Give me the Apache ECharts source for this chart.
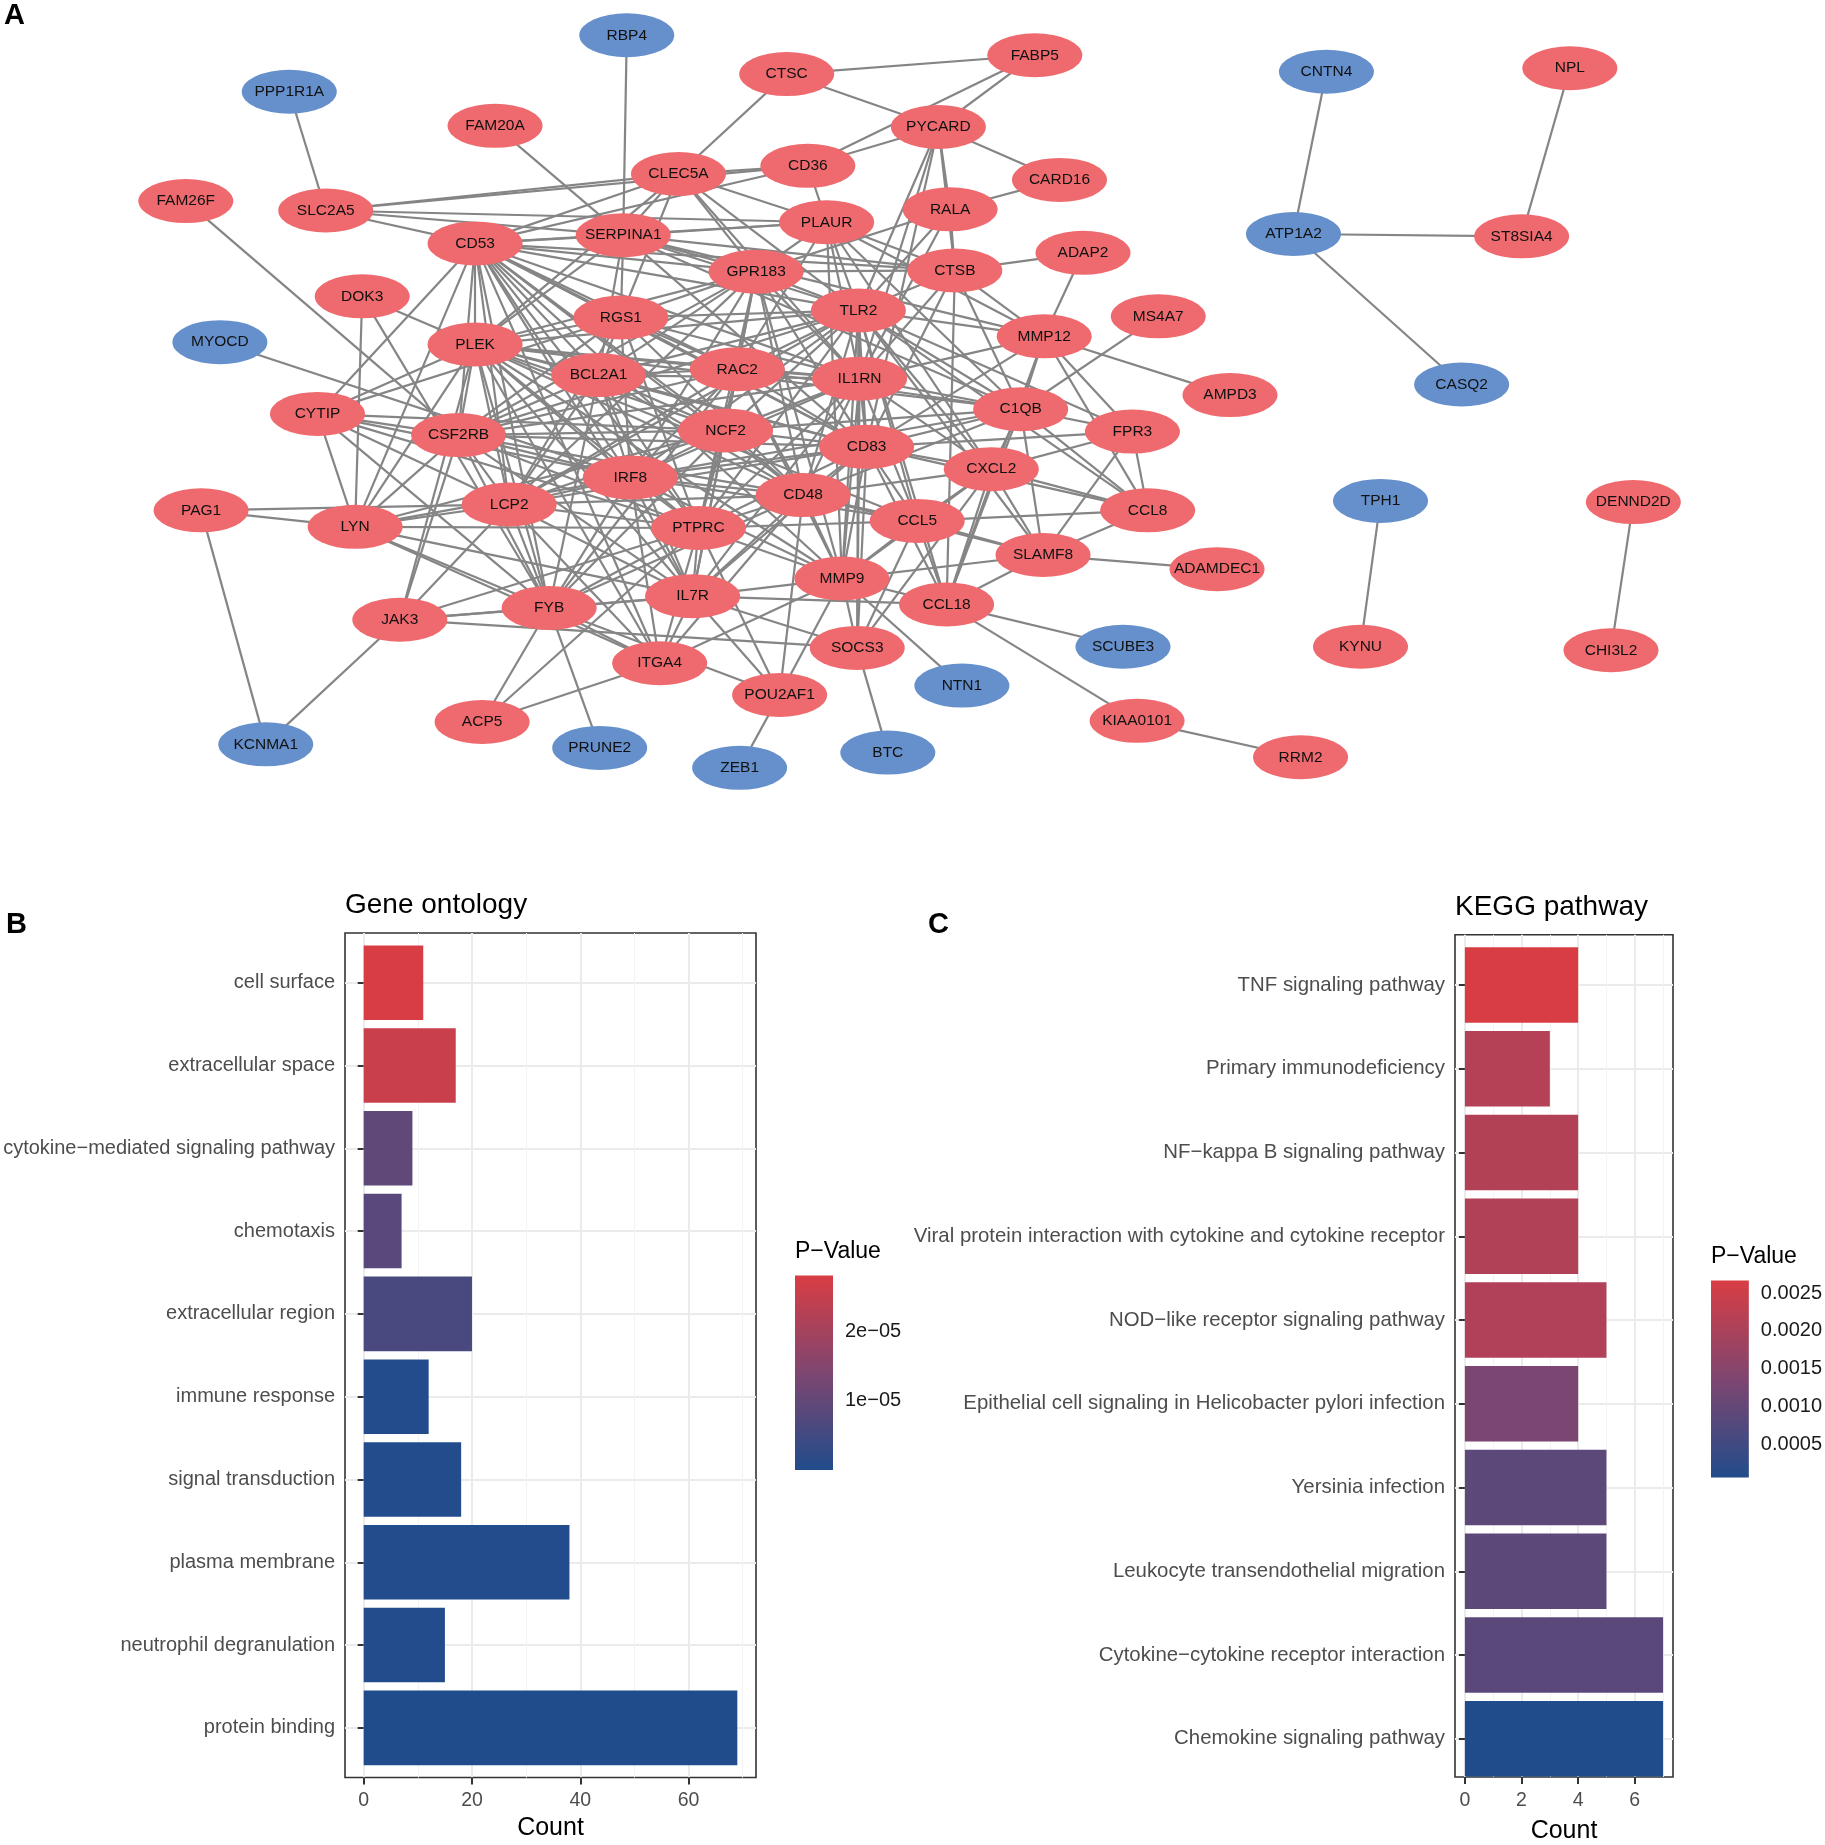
<!DOCTYPE html>
<html>
<head>
<meta charset="utf-8">
<script src="https://cdn.jsdelivr.net/npm/echarts@6/dist/echarts.min.js"></script>
<style>html,body{margin:0;padding:0;background:#fff}#c{width:1825px;height:1845px}</style>
</head>
<body>
<div id="c"></div>
<script>
// ---------------- DATA ----------------
// Network nodes: [name, x, y] in layout units
const redNodes = [
 ['FABP5',880,47],['CTSC',669,63],['PYCARD',798,108],['FAM20A',421,107],['CD36',687,141],
 ['CLEC5A',577,148],['CARD16',901,153],['FAM26F',158,171],['SLC2A5',277,179],['RALA',808,178],
 ['PLAUR',703,189],['SERPINA1',530,200],['CD53',404,207],['ADAP2',921,215],['CTSB',812,230],
 ['GPR183',643,231],['DOK3',308,252],['TLR2',730,264],['RGS1',528,270],['MS4A7',985,269],
 ['MMP12',888,286],['PLEK',404,293],['RAC2',627,314],['BCL2A1',509,319],['IL1RN',731,322],
 ['AMPD3',1046,336],['C1QB',868,348],['CYTIP',270,352],['FPR3',963,367],['CSF2RB',390,370],
 ['NCF2',617,366],['CD83',737,380],['CXCL2',843,399],['IRF8',536,406],['CD48',683,421],
 ['CCL8',976,434],['PAG1',171,434],['LCP2',433,429],['LYN',302,448],['PTPRC',594,449],
 ['CCL5',780,443],['SLAMF8',887,472],['ADAMDEC1',1035,484],['MMP9',716,492],['IL7R',589,507],
 ['FYB',467,517],['CCL18',805,514],['JAK3',340,527],['SOCS3',729,551],['ITGA4',561,564],
 ['POU2AF1',663,591],['ACP5',410,614],['KIAA0101',967,613],['RRM2',1106,644],['NPL',1335,58],
 ['ST8SIA4',1294,201],['DENND2D',1389,427],['KYNU',1157,550],['CHI3L2',1370,553]
];
const blueNodes = [
 ['RBP4',533,30],['PPP1R1A',246,78],['MYOCD',187,291],['KCNMA1',226,633],['PRUNE2',510,636],
 ['ZEB1',629,653],['BTC',755,640],['NTN1',818,583],['SCUBE3',955,550],['CNTN4',1128,61],
 ['ATP1A2',1100,199],['CASQ2',1243,327],['TPH1',1174,426]
];
const edges = [
 ['RBP4','SERPINA1'],['PPP1R1A','SLC2A5'],['FAM26F','CSF2RB'],['FAM20A','SERPINA1'],['MYOCD','IRF8'],
 ['CTSC','FABP5'],['CTSC','PYCARD'],['CTSC','CLEC5A'],['FABP5','PYCARD'],['FABP5','CD36'],
 ['PYCARD','CARD16'],['PYCARD','RALA'],['PYCARD','CD36'],['PYCARD','TLR2'],['PYCARD','IL1RN'],['PYCARD','CD83'],['PYCARD','CTSB'],
 ['CARD16','RALA'],['RALA','CTSB'],['RALA','TLR2'],['RALA','IL1RN'],['RALA','GPR183'],
 ['CTSB','ADAP2'],['ADAP2','MMP12'],['MS4A7','C1QB'],['MMP12','AMPD3'],
 ['CD36','PLAUR'],['CD36','CLEC5A'],['CD36','SLC2A5'],['CD36','CD53'],
 ['SLC2A5','CLEC5A'],['SLC2A5','PLAUR'],['SLC2A5','CD53'],['SLC2A5','SERPINA1'],
 ['CLEC5A','SERPINA1'],['CLEC5A','CD53'],['CLEC5A','PLAUR'],['CLEC5A','TLR2'],['CLEC5A','GPR183'],['CLEC5A','RGS1'],['CLEC5A','PLEK'],['CLEC5A','IL1RN'],
 ['SERPINA1','PLAUR'],['SERPINA1','CTSB'],['SERPINA1','TLR2'],['SERPINA1','MMP12'],['SERPINA1','CD53'],['SERPINA1','RGS1'],['SERPINA1','PLEK'],['SERPINA1','GPR183'],['SERPINA1','CD83'],['SERPINA1','BCL2A1'],['SERPINA1','C1QB'],
 ['PLAUR','CTSB'],['PLAUR','TLR2'],['PLAUR','IL1RN'],['PLAUR','MMP12'],['PLAUR','C1QB'],['PLAUR','GPR183'],['PLAUR','CD53'],['PLAUR','RAC2'],['PLAUR','CXCL2'],['PLAUR','MMP9'],
 ['CTSB','TLR2'],['CTSB','C1QB'],['CTSB','MMP12'],['CTSB','GPR183'],['CTSB','IL1RN'],['CTSB','CD53'],['CTSB','CD83'],['CTSB','CCL18'],
 ['MMP12','C1QB'],['MMP12','TLR2'],['MMP12','FPR3'],['MMP12','CD83'],['MMP12','CCL8'],['MMP12','IL1RN'],['MMP12','CCL18'],
 ['C1QB','IL1RN'],['C1QB','TLR2'],['C1QB','CD83'],['C1QB','FPR3'],['C1QB','CCL8'],['C1QB','SLAMF8'],['C1QB','CXCL2'],['C1QB','CD48'],['C1QB','RAC2'],['C1QB','CCL18'],['C1QB','NCF2'],['C1QB','PLEK'],['C1QB','IRF8'],
 ['FPR3','CCL8'],['FPR3','SLAMF8'],['FPR3','CXCL2'],['FPR3','TLR2'],['FPR3','CD83'],
 ['CCL8','SLAMF8'],['CCL8','CXCL2'],['CCL8','CCL5'],['CCL8','TLR2'],['CCL8','CD83'],
 ['CXCL2','CCL18'],['CXCL2','SLAMF8'],['CXCL2','CD83'],['CXCL2','CCL5'],['CXCL2','MMP9'],['CXCL2','TLR2'],['CXCL2','IL1RN'],['CXCL2','CD48'],['CXCL2','SOCS3'],
 ['CCL5','SLAMF8'],['CCL5','MMP9'],['CCL5','CD83'],['CCL5','SOCS3'],['CCL5','TLR2'],['CCL5','CD48'],['CCL5','PTPRC'],['CCL5','IRF8'],['CCL5','IL1RN'],['CCL5','CCL18'],
 ['MMP9','SOCS3'],['MMP9','CCL18'],['MMP9','IL7R'],['MMP9','POU2AF1'],['MMP9','NTN1'],['MMP9','CD48'],['MMP9','CD83'],['MMP9','IL1RN'],['MMP9','TLR2'],['MMP9','PTPRC'],['MMP9','RAC2'],['MMP9','IRF8'],['MMP9','GPR183'],['MMP9','SLAMF8'],['MMP9','ITGA4'],
 ['CCL18','SLAMF8'],['CCL18','SCUBE3'],['CCL18','KIAA0101'],['CCL18','IL7R'],['CCL18','CD83'],
 ['SOCS3','BTC'],['SOCS3','JAK3'],['SOCS3','IL1RN'],['SOCS3','CD83'],['SOCS3','IL7R'],['SOCS3','TLR2'],
 ['POU2AF1','ZEB1'],['POU2AF1','PTPRC'],['POU2AF1','IL7R'],['POU2AF1','FYB'],['POU2AF1','CD48'],
 ['ITGA4','IL7R'],['ITGA4','PTPRC'],['ITGA4','FYB'],['ITGA4','ACP5'],['ITGA4','CD48'],['ITGA4','LCP2'],['ITGA4','LYN'],['ITGA4','IRF8'],
 ['PAG1','LYN'],['PAG1','LCP2'],['PAG1','KCNMA1'],
 ['LYN','PTPRC'],['LYN','FYB'],['LYN','CYTIP'],['LYN','DOK3'],['LYN','CSF2RB'],['LYN','LCP2'],['LYN','IL7R'],['LYN','PLEK'],['LYN','CD53'],['LYN','IRF8'],['LYN','NCF2'],
 ['JAK3','FYB'],['JAK3','CSF2RB'],['JAK3','LCP2'],['JAK3','KCNMA1'],['JAK3','IL7R'],['JAK3','PTPRC'],['JAK3','PLEK'],
 ['FYB','LCP2'],['FYB','CSF2RB'],['FYB','PTPRC'],['FYB','IRF8'],['FYB','IL7R'],['FYB','PRUNE2'],['FYB','ACP5'],['FYB','CYTIP'],['FYB','PLEK'],['FYB','CD53'],['FYB','DOK3'],['FYB','CD48'],['FYB','RAC2'],['FYB','NCF2'],['FYB','BCL2A1'],
 ['ACP5','PTPRC'],
 ['CYTIP','CSF2RB'],['CYTIP','IRF8'],['CYTIP','PTPRC'],['CYTIP','LCP2'],['CYTIP','CD53'],['CYTIP','PLEK'],['CYTIP','RGS1'],['CYTIP','NCF2'],
 ['CSF2RB','NCF2'],['CSF2RB','LCP2'],['CSF2RB','IRF8'],['CSF2RB','PTPRC'],['CSF2RB','PLEK'],['CSF2RB','CD53'],['CSF2RB','RGS1'],['CSF2RB','BCL2A1'],['CSF2RB','RAC2'],['CSF2RB','CD48'],['CSF2RB','IL7R'],['CSF2RB','CD83'],['CSF2RB','TLR2'],['CSF2RB','GPR183'],['CSF2RB','IL1RN'],
 ['DOK3','PLEK'],
 ['CD53','PLEK'],['CD53','RGS1'],['CD53','GPR183'],['CD53','TLR2'],['CD53','BCL2A1'],['CD53','RAC2'],['CD53','LCP2'],['CD53','IRF8'],['CD53','NCF2'],['CD53','PTPRC'],['CD53','CD48'],['CD53','IL7R'],['CD53','MMP9'],['CD53','CD83'],['CD53','IL1RN'],['CD53','ITGA4'],
 ['PLEK','RGS1'],['PLEK','BCL2A1'],['PLEK','RAC2'],['PLEK','NCF2'],['PLEK','IRF8'],['PLEK','PTPRC'],['PLEK','CD48'],['PLEK','TLR2'],['PLEK','GPR183'],['PLEK','LCP2'],['PLEK','IL7R'],['PLEK','CD83'],['PLEK','IL1RN'],['PLEK','MMP9'],['PLEK','CCL5'],['PLEK','ITGA4'],
 ['TLR2','GPR183'],['TLR2','RGS1'],['TLR2','RAC2'],['TLR2','IL1RN'],['TLR2','CD83'],['TLR2','CD48'],['TLR2','PTPRC'],['TLR2','IRF8'],['TLR2','NCF2'],['TLR2','BCL2A1'],['TLR2','SLAMF8'],['TLR2','CCL18'],['TLR2','LCP2'],
 ['GPR183','RGS1'],['GPR183','RAC2'],['GPR183','BCL2A1'],['GPR183','IRF8'],['GPR183','CD83'],['GPR183','PTPRC'],['GPR183','CD48'],['GPR183','IL1RN'],['GPR183','LCP2'],['GPR183','NCF2'],
 ['RGS1','BCL2A1'],['RGS1','RAC2'],['RGS1','IRF8'],['RGS1','PTPRC'],['RGS1','CD83'],['RGS1','LCP2'],['RGS1','IL1RN'],['RGS1','CD48'],
 ['BCL2A1','RAC2'],['BCL2A1','NCF2'],['BCL2A1','IRF8'],['BCL2A1','PTPRC'],['BCL2A1','LCP2'],['BCL2A1','CD83'],['BCL2A1','IL1RN'],['BCL2A1','CD48'],['BCL2A1','IL7R'],
 ['RAC2','NCF2'],['RAC2','IRF8'],['RAC2','PTPRC'],['RAC2','IL1RN'],['RAC2','CD83'],['RAC2','CD48'],['RAC2','LCP2'],['RAC2','IL7R'],
 ['NCF2','IRF8'],['NCF2','PTPRC'],['NCF2','CD83'],['NCF2','CD48'],['NCF2','LCP2'],['NCF2','IL1RN'],['NCF2','IL7R'],
 ['IL1RN','CD83'],['IL1RN','CD48'],['IL1RN','PTPRC'],['IL1RN','IRF8'],['IL1RN','IL7R'],
 ['CD83','CD48'],['CD83','PTPRC'],['CD83','IRF8'],['CD83','IL7R'],['CD83','LCP2'],
 ['IRF8','LCP2'],['IRF8','PTPRC'],['IRF8','CD48'],['IRF8','IL7R'],
 ['LCP2','PTPRC'],['LCP2','IL7R'],['LCP2','CD48'],
 ['PTPRC','IL7R'],['PTPRC','CD48'],['CD48','IL7R'],['CD48','SLAMF8'],
 ['SLAMF8','ADAMDEC1'],['KIAA0101','RRM2'],
 ['ATP1A2','CNTN4'],['ATP1A2','ST8SIA4'],['ATP1A2','CASQ2'],['ST8SIA4','NPL'],['TPH1','KYNU'],['DENND2D','CHI3L2']
];

// Gene ontology
const goTerms = ['cell surface','extracellular space','cytokine\u2212mediated signaling pathway','chemotaxis',
 'extracellular region','immune response','signal transduction','plasma membrane','neutrophil degranulation','protein binding'];
const goCounts = [11,17,9,7,20,12,18,38,15,69];
const goPValues = [2.8e-5,2.55e-5,9.5e-6,8.5e-6,6.0e-6,2e-7,1.5e-7,1e-7,1e-7,1e-9];
const goTicks = [0,20,40,60];
const goMinorTicks = [10,30,50,70];
const goLegendTicks = [1e-5,2e-5];

// KEGG
const keggTerms = ['TNF signaling pathway','Primary immunodeficiency','NF\u2212kappa B signaling pathway',
 'Viral protein interaction with cytokine and cytokine receptor','NOD\u2212like receptor signaling pathway',
 'Epithelial cell signaling in Helicobacter pylori infection','Yersinia infection',
 'Leukocyte transendothelial migration','Cytokine\u2212cytokine receptor interaction','Chemokine signaling pathway'];
const keggCounts = [4,3,4,4,5,4,5,5,7,7];
const keggPValues = [0.002665,0.00214,0.00212,0.00210,0.00208,0.00132,0.00090,0.00090,0.00088,0.0000646];
const keggTicks = [0,2,4,6];
const keggMinorTicks = [1,3,5,7];
const keggLegendTicks = [0.0005,0.0010,0.0015,0.0020,0.0025];

// ---------------- STYLE / BUILD ----------------
const FONT = '"Liberation Sans", Arial, Helvetica, sans-serif';
const RED = '#EF6A6E', BLUE = '#6690CC';
const STOPS = ['#214C8B','#7E4670','#D93D44'];
const chart = echarts.init(document.getElementById('c'), null, {renderer:'canvas'});

const option = {
  animation:false, backgroundColor:'#ffffff', textStyle:{fontFamily:FONT},
  title:[], grid:[], xAxis:[], yAxis:[], series:[], visualMap:[]
};

// ---- network ----
option.grid.push({left:0, top:0, width:1825, height:1845, show:false});
option.xAxis.push({type:'value', gridIndex:0, min:0, max:1552, show:false});
option.yAxis.push({type:'value', gridIndex:0, min:0, max:1569, inverse:true, show:false});
const nodeNames = new Set();
const nodeData = [];
redNodes.forEach(n => { nodeNames.add(n[0]); nodeData.push({name:n[0], value:[n[1],n[2]], itemStyle:{color:RED}}); });
blueNodes.forEach(n => { nodeNames.add(n[0]); nodeData.push({name:n[0], value:[n[1],n[2]], itemStyle:{color:BLUE}}); });
const seen = new Set();
const links = [];
edges.forEach(e => {
  const k = [e[0],e[1]].sort().join('|');
  if (seen.has(k) || !nodeNames.has(e[0]) || !nodeNames.has(e[1])) return;
  seen.add(k); links.push({source:e[0], target:e[1]});
});
option.series.push({
  type:'graph', layout:'none', coordinateSystem:'cartesian2d', xAxisIndex:0, yAxisIndex:0,
  symbol:'circle', symbolSize:[95,44], data:nodeData, links:links, silent:true,
  label:{show:true, position:'inside', fontSize:15.5, color:'#111111', fontFamily:FONT},
  lineStyle:{color:'#858585', width:2.2, opacity:1, curveness:0},
  emphasis:{disabled:true}
});

// ---- bar panels ----
function addPanel(p) {
  const g = option.grid.length, xi = option.xAxis.length, yi = option.yAxis.length;
  const band = p.band;
  option.grid.push({left:p.left, top:p.top, width:p.width, height:band*10.2, show:true,
    borderColor:'#333333', borderWidth:1.6, backgroundColor:'rgba(0,0,0,0)'});
  option.grid.push({left:p.left, top:p.top+0.1*band, width:p.width, height:band*10, show:false});
  option.grid.push({left:p.left, top:p.top+0.6*band, width:p.width, height:band*9, show:false});
  option.grid.push({left:p.legLeft, top:p.legTop, width:p.legW, height:p.legH, show:false});
  // panel axes
  option.xAxis.push({type:'value', gridIndex:g, min:p.min, max:p.max, position:'bottom',
    axisLine:{show:false},
    axisTick:{show:true, customValues:p.ticks, length:7, lineStyle:{color:'#333333', width:2}},
    axisLabel:{customValues:p.ticks, fontSize:19.5, color:'#4d4d4d', margin:p.tickMargin},
    splitLine:{show:true, lineStyle:{color:'#ebebeb', width:2}},
    name:'Count', nameLocation:'middle', nameGap:p.nameGap, nameTextStyle:{fontSize:25, color:'#000'}});
  option.xAxis.push({type:'value', gridIndex:g, min:p.min, max:p.max, position:'top',
    axisLine:{show:false}, axisTick:{show:false, customValues:p.minor}, axisLabel:{show:false},
    splitLine:{show:true, lineStyle:{color:'#f3f3f3', width:1}}});
  option.yAxis.push({type:'value', gridIndex:g, show:false});
  // bar grid axes
  option.xAxis.push({type:'value', gridIndex:g+1, min:p.min, max:p.max, show:false});
  option.yAxis.push({type:'category', gridIndex:g+1, data:p.terms, inverse:true, show:false});
  // center grid axes (labels + horizontal grid)
  option.xAxis.push({type:'value', gridIndex:g+2, min:p.min, max:p.max, show:false});
  option.yAxis.push({type:'category', gridIndex:g+2, data:p.terms, inverse:true, boundaryGap:false,
    axisLine:{show:false},
    axisTick:{show:true, length:6, interval:0, lineStyle:{color:'#333333', width:2}},
    axisLabel:{interval:0, fontSize:p.labelSize, color:'#4d4d4d', margin:10},
    splitLine:{show:true, interval:0, lineStyle:{color:'#ebebeb', width:2}}});
  // legend axes
  option.xAxis.push({type:'category', gridIndex:g+3, data:['bar'], show:false});
  option.yAxis.push({type:'value', gridIndex:g+3, position:'right', min:p.pmin, max:p.pmax,
    axisLine:{show:false},
    axisTick:{show:true, inside:true, length:8, customValues:p.legTicks, lineStyle:{color:'#ffffff', width:1.5}},
    axisLabel:{customValues:p.legTicks, formatter:p.fmt, fontSize:20, color:'#1a1a1a', margin:12},
    splitLine:{show:false}});
  option.yAxis.push({type:'value', gridIndex:g+3, position:'left', min:p.pmin, max:p.pmax,
    axisLine:{show:false}, axisLabel:{show:false},
    axisTick:{show:true, inside:true, length:8, customValues:p.legTicks, lineStyle:{color:'#ffffff', width:1.5}},
    splitLine:{show:false}});
  // bars
  const si = option.series.length;
  option.series.push({type:'bar', xAxisIndex:xi+2, yAxisIndex:yi+1, silent:true,
    data:p.terms.map((t,i)=>[p.counts[i], t, p.pvals[i]]), encode:{x:0, y:1},
    barCategoryGap:'10%', z:3});
  option.visualMap.push({type:'continuous', show:false, seriesIndex:si, dimension:2,
    min:p.pmin, max:p.pmax, inRange:{color:STOPS}});
  // colourbar
  option.series.push({type:'bar', xAxisIndex:xi+4, yAxisIndex:yi+3, stack:'leg'+g, data:[p.pmin],
    barWidth:'100%', silent:true, clip:true, itemStyle:{color:'rgba(0,0,0,0)'}});
  option.series.push({type:'bar', xAxisIndex:xi+4, yAxisIndex:yi+3, stack:'leg'+g, data:[p.pmax-p.pmin],
    barWidth:'100%', silent:true, clip:true,
    itemStyle:{color:new echarts.graphic.LinearGradient(0,0,0,1,[
      {offset:0,color:STOPS[2]},{offset:0.5,color:STOPS[1]},{offset:1,color:STOPS[0]}])}});
}

function expFmt(v) {
  const parts = Number(v).toExponential(0).split('e');
  const e = parseInt(parts[1],10);
  return parts[0] + 'e' + (e < 0 ? '\u2212' : '+') + String(Math.abs(e)).padStart(2,'0');
}

addPanel({left:345, top:933, width:411, band:82.8, min:-3.45, max:72.45,
  ticks:goTicks, minor:goMinorTicks, terms:goTerms, counts:goCounts, pvals:goPValues,
  pmin:0, pmax:2.8e-5, legTicks:goLegendTicks, fmt:expFmt, nameGap:38, tickMargin:13, labelSize:20,
  legLeft:795, legTop:1275.5, legW:38, legH:194.5});
addPanel({left:1455, top:934.75, width:218, band:83.75, min:-0.35, max:7.35,
  ticks:keggTicks, minor:keggMinorTicks, terms:keggTerms, counts:keggCounts, pvals:keggPValues,
  pmin:0.0000646, pmax:0.002665, legTicks:keggLegendTicks, fmt:v=>Number(v).toFixed(4), nameGap:42, tickMargin:14, labelSize:20.4,
  legLeft:1711, legTop:1280.5, legW:39, legH:197});

const T = (text, left, top, size, bold) => ({text, left, top, padding:0,
  textStyle:{fontSize:size, fontWeight:bold?'bold':'normal', color:'#000', fontFamily:FONT}});
option.title = [
  T('A', 4, 1, 29, true), T('B', 6, 910, 29, true), T('C', 928, 910, 29, true),
  T('Gene ontology', 345, 891, 28, false), T('KEGG pathway', 1455, 893, 28, false),
  T('P\u2212Value', 795, 1240, 23, false), T('P\u2212Value', 1711, 1245, 23, false)
];

chart.setOption(option);
</script>
</body>
</html>
